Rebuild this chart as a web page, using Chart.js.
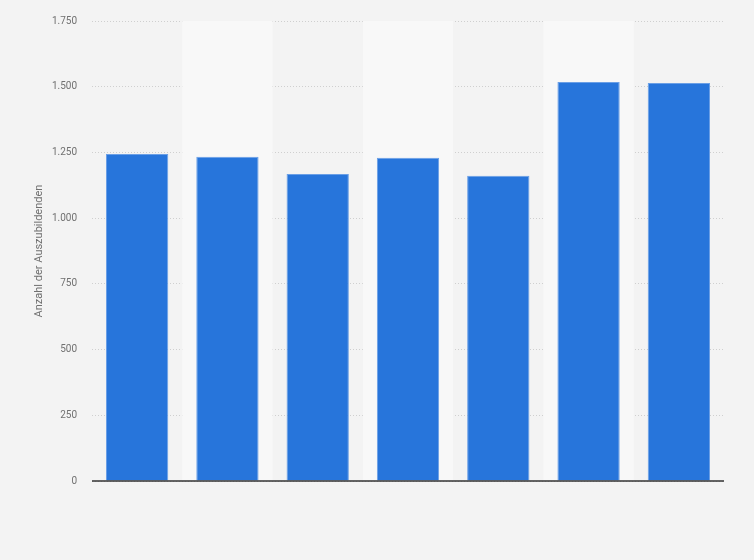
<!DOCTYPE html>
<html>
<head>
<meta charset="utf-8">
<script src="https://cdn.jsdelivr.net/npm/chart.js@4/dist/chart.umd.min.js"></script>
<style>
  html,body{margin:0;padding:0;background:#f3f3f3;}
  #wrap{width:754px;height:560px;position:relative;}
</style>
</head>
<body>
<div id="wrap"><canvas id="c" width="754" height="560"></canvas></div>
<script>
// ── Data ──
const categories = ['1', '2', '3', '4', '5', '6', '7'];
const apprentices = [1244, 1234, 1168, 1230, 1161, 1518, 1514];
const yTicks = [0, 250, 500, 750, 1000, 1250, 1500, 1750];
const yTitle = 'Anzahl der Auszubildenden';

// ── Alternating column bands ──
const bandPlugin = {
  id: 'bands',
  beforeDatasetsDraw(chart) {
    const {ctx, chartArea, scales:{x}} = chart;
    const step = x.getPixelForValue(1) - x.getPixelForValue(0);
    ctx.save();
    ctx.fillStyle = '#f8f8f8';
    categories.forEach((c, i) => {
      if (i % 2 === 1) {
        const cx = x.getPixelForValue(i);
        ctx.fillRect(cx - step/2, chartArea.top, step, chartArea.bottom - chartArea.top);
      }
    });
    ctx.restore();
  }
};

// ── Baseline ──
const baseLine = {
  id: 'baseLine',
  afterDatasetsDraw(chart) {
    const {ctx, chartArea, scales:{y}} = chart;
    const yy = y.getPixelForValue(0);
    ctx.save();
    ctx.strokeStyle = '#333';
    ctx.lineWidth = 1.5;
    ctx.beginPath();
    ctx.moveTo(chartArea.left, yy);
    ctx.lineTo(chartArea.right, yy);
    ctx.stroke();
    ctx.restore();
  }
};

Chart.defaults.font.family = "Roboto, 'Noto Sans', sans-serif";
Chart.defaults.color = '#666';

new Chart(document.getElementById('c'), {
  type: 'bar',
  data: {
    labels: categories,
    datasets: [{
      data: apprentices,
      backgroundColor: '#2775db',
      borderColor: '#6a9fe6',
      borderWidth: 1,
      barPercentage: 0.69,
      categoryPercentage: 1
    }]
  },
  options: {
    responsive: false,
    animation: false,
    layout: {padding: {left: 0, right: 30, top: 20, bottom: 79}},
    plugins: {legend: {display: false}, tooltip: {enabled: false}},
    scales: {
      x: {
        grid: {display: false, drawTicks: false},
        border: {display: false},
        ticks: {display: false}
      },
      y: {
        min: 0, max: 1750,
        afterFit: s => { s.width = 92; },
        afterBuildTicks: s => { s.ticks = yTicks.map(v => ({value: v})); },
        grid: {color: '#cfcfcf', drawTicks: false, lineWidth: 1},
        border: {display: false, dash: [1, 2]},
        ticks: {
          padding: 15,
          font: {size: 10},
          color: '#707070',
          callback: v => v.toLocaleString('de-DE')
        },
        title: {display: true, text: yTitle, font: {size: 11}, color: '#707070', padding: {top: 33, bottom: 0}}
      }
    }
  },
  plugins: [bandPlugin, baseLine]
});
</script>
</body>
</html>
